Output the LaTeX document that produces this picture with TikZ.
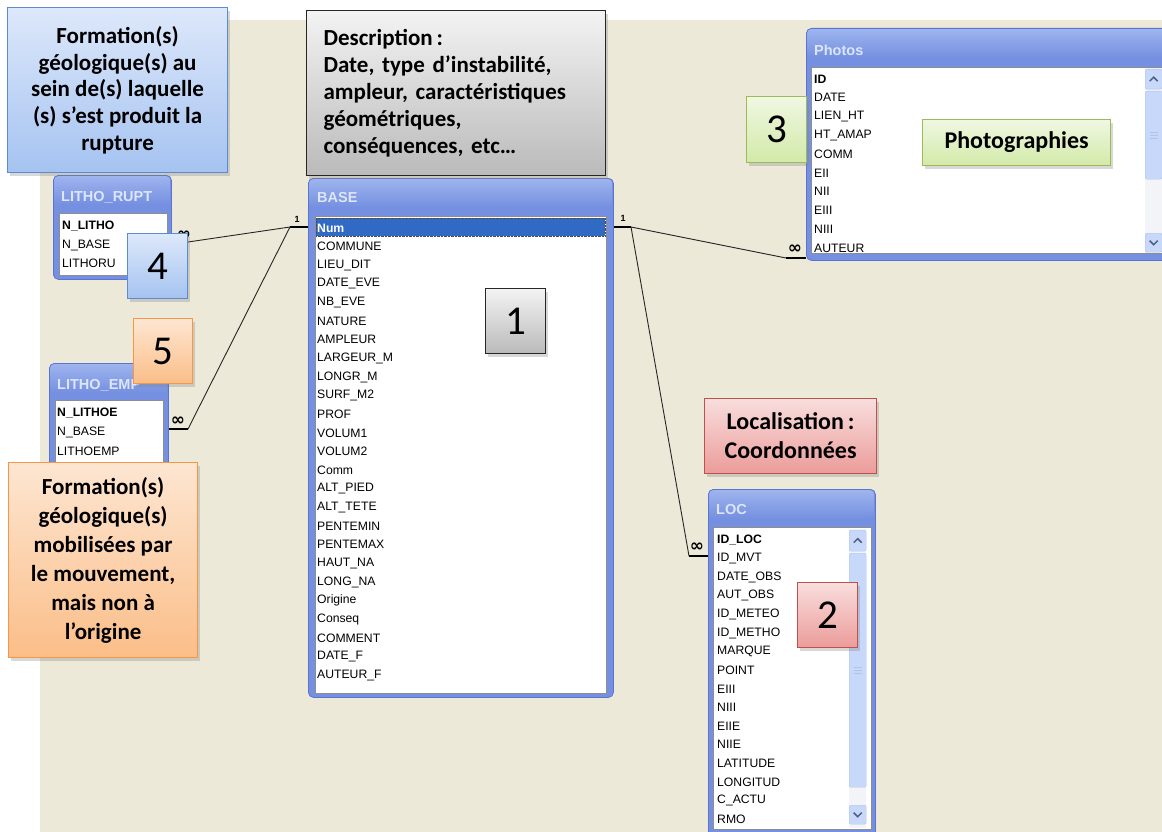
\documentclass[tikz,border=0pt]{standalone}
\usepackage{fontspec}
\setmainfont{Carlito}
\newfontfamily\xpfont{Liberation Sans}
\newfontfamily\symfont{DejaVu Sans}
\usetikzlibrary{shadows,positioning}
\definecolor{Beige}{HTML}{ECE9D8}
\definecolor{XpBlue}{HTML}{7590E0}
\definecolor{XpEdge}{HTML}{5B74D2}
\definecolor{XpTop}{HTML}{9DB4EE}
\definecolor{XpTitle}{HTML}{DCE5FA}
\definecolor{ListEdge}{HTML}{8E8E8E}
\definecolor{SelBlue}{HTML}{316AC5}
\definecolor{ScrTrack}{HTML}{F3F4F8}
\definecolor{ScrBtn}{HTML}{C8D8FA}
\definecolor{ScrEdge}{HTML}{AFC3EE}
\definecolor{ChevBlue}{HTML}{4D6185}
\definecolor{BlueEdge}{HTML}{5B8BD0}
\definecolor{BlueTop}{HTML}{DDE8FA}
\definecolor{BlueBot}{HTML}{A5C3F1}
\definecolor{GreyTop}{HTML}{F3F3F3}
\definecolor{GreyBot}{HTML}{BABABA}
\definecolor{OrangeEdge}{HTML}{F79646}
\definecolor{OrangeTop}{HTML}{FDE6D2}
\definecolor{OrangeBot}{HTML}{FBBE88}
\definecolor{GreenEdge}{HTML}{9BBB59}
\definecolor{GreenTop}{HTML}{F0F7E2}
\definecolor{GreenBot}{HTML}{D2EAA8}
\definecolor{RedEdge}{HTML}{C0504D}
\definecolor{RedTop}{HTML}{F8DEDD}
\definecolor{RedBot}{HTML}{EB9C9A}

\begin{document}
\begin{tikzpicture}[x=1pt,y=-1pt,
 frame/.style={draw=XpEdge,fill=XpBlue,rounded corners=5pt,line width=0.8pt,anchor=north west,inner sep=0pt},
 band/.style={top color=XpTop,bottom color=XpBlue,rounded corners=4pt,anchor=north west,inner sep=0pt,minimum height=28pt},
 ttl/.style={anchor=west,inner sep=0pt,text=XpTitle,font=\xpfont\bfseries\fontsize{14.5}{16}\selectfont},
 list/.style={draw=ListEdge,fill=white,line width=0.8pt,anchor=north west,inner sep=0pt},
 fld/.style={anchor=west,inner sep=0pt,font=\xpfont\fontsize{12.2}{14}\selectfont},
 key/.style={fld,font=\xpfont\bfseries\fontsize{12.2}{14}\selectfont},
 stub/.style={line width=2.6pt},
 link/.style={line width=0.9pt,draw=black!85},
 card/.style={inner sep=0pt,font=\xpfont\bfseries\fontsize{9}{9}\selectfont},
 many/.style={inner sep=0pt,font=\symfont\bfseries\fontsize{17}{17}\selectfont},
 callout/.style={line width=1.2pt,anchor=north west,inner sep=0pt,align=center,
   drop shadow={opacity=0.3,shadow xshift=2pt,shadow yshift=-3pt},
   font=\bfseries\fontsize{23}{27}\selectfont},
 numbox/.style={callout,font=\fontsize{41}{41}\selectfont,minimum width=60pt,minimum height=65pt},
 bluebox/.style={draw=BlueEdge,top color=BlueTop,bottom color=BlueBot},
 greybox/.style={draw=black!85,top color=GreyTop,bottom color=GreyBot},
 orangebox/.style={draw=OrangeEdge,top color=OrangeTop,bottom color=OrangeBot},
 greenbox/.style={draw=GreenEdge,top color=GreenTop,bottom color=GreenBot},
 redbox/.style={draw=RedEdge,top color=RedTop,bottom color=RedBot},
 scrtrack/.style={fill=ScrTrack,anchor=north west,inner sep=0pt,minimum width=17pt},
 scrbtn/.style={draw=ScrEdge,fill=ScrBtn,rounded corners=2pt,anchor=north west,inner sep=0pt,minimum width=17pt},
 chev/.style={line width=1.5pt,draw=ChevBlue}]
\clip (0,0) rectangle (1162,832);
\fill[white] (0,0) rectangle (1162,832);
\fill[Beige] (40,20) rectangle (1162,832);

% tables
\node[frame,minimum width=305pt,minimum height=519pt] (base) at (308,178) {};
\node[band,minimum width=303pt] at (309,179) {};
\node[ttl] (baset) at (317,198) {BASE};
\node[list,minimum width=291pt,minimum height=477pt] (basel) at (315,216) {};
\fill[SelBlue,draw=black!70,densely dotted] (316,218) rectangle (605,236);
\node[key,text=white] (base-0) at (317,228) {Num};
\foreach \f [count=\i] in {COMMUNE,LIEU\_DIT,DATE\_EVE,NB\_EVE,NATURE,AMPLEUR,LARGEUR\_M,
  LONGR\_M,SURF\_M2,PROF,VOLUM1,VOLUM2,Comm,ALT\_PIED,ALT\_TETE,PENTEMIN,PENTEMAX,
  HAUT\_NA,LONG\_NA,Origine,Conseq,COMMENT,DATE\_F,AUTEUR\_F}
  \node[fld] (base-\i) at ({317},{228+18.63*\i}) {\f};

\node[frame,minimum width=118pt,minimum height=104pt] (rupt) at (53,175) {};
\node[band,minimum width=116pt] at (54,176) {};
\node[ttl] (ruptt) at (61,197) {LITHO\_RUPT};
\node[list,minimum width=108pt,minimum height=62pt] (ruptl) at (59,213) {};
\node[key] (rupt-0) at (62,226) {N\_LITHO};
\node[fld] (rupt-1) at (62,245) {N\_BASE};
\node[fld] (rupt-2) at (62,263) {LITHORU};

\node[frame,minimum width=119pt,minimum height=110pt] (emp) at (49,363) {};
\node[band,minimum width=117pt] at (50,364) {};
\node[ttl] (empt) at (57,385) {LITHO\_EMP};
\node[list,minimum width=108pt,minimum height=75pt] (empl) at (55,400) {};
\node[key] (emp-0) at (57,413) {N\_LITHOE};
\node[fld] (emp-1) at (57,432) {N\_BASE};
\node[fld] (emp-2) at (57,451) {LITHOEMP};

\node[frame,minimum width=370pt,minimum height=232pt] (photos) at (806,28) {};
\node[band,minimum width=368pt] at (807,29) {};
\node[ttl] (photost) at (814,50) {Photos};
\node[list,minimum width=360pt,minimum height=186pt] (photosl) at (811,67) {};
\node[key] (photos-0) at (814,79) {ID};
\foreach \f [count=\i] in {DATE,LIEN\_HT,HT\_AMAP,COMM,EII,NII,EIII,NIII,AUTEUR}
  \node[fld] (photos-\i) at ({814},{79+18.8*\i}) {\f};
\node[scrtrack,minimum height=185pt] (phtrack) at (1145,68) {};
\node[scrbtn,minimum height=20pt] (phup) at (1145,69) {};
\node[scrbtn,minimum height=88pt] (phthumb) at (1145,91) {};
\node[scrbtn,minimum height=19pt] (phdown) at (1145,233) {};

\node[frame,minimum width=167pt,minimum height=360pt] (loc) at (708,489) {};
\node[band,minimum width=165pt] at (709,490) {};
\node[ttl] (loct) at (716,510) {LOC};
\node[list,minimum width=158pt,minimum height=302pt] (locl) at (713,527) {};
\node[key] (loc-0) at (717,540) {ID\_LOC};
\foreach \f [count=\i] in {ID\_MVT,DATE\_OBS,AUT\_OBS,ID\_METEO,ID\_METHO,MARQUE,POINT,
  EIII,NIII,EIIE,NIIE,LATITUDE,LONGITUD,C\_ACTU,RMO}
  \node[fld] (loc-\i) at ({717},{540+18.6*\i}) {\f};
\node[scrtrack,minimum height=299pt] (loctrack) at (849,529) {};
\node[scrbtn,minimum height=21pt] (locup) at (849,530) {};
\node[scrbtn,minimum height=234pt] (locthumb) at (849,553) {};
\node[scrbtn,minimum height=19pt] (locdown) at (849,805) {};

% scroll arrows and grips
\foreach \b in {phup,locup}
  \draw[chev] ([xshift=-4pt,yshift=-2pt]\b.center) -- ([yshift=2pt]\b.center) -- ([xshift=4pt,yshift=-2pt]\b.center);
\foreach \b in {phdown,locdown}
  \draw[chev] ([xshift=-4pt,yshift=2pt]\b.center) -- ([yshift=-2pt]\b.center) -- ([xshift=4pt,yshift=2pt]\b.center);
\foreach \b in {phthumb,locthumb}
  \foreach \d in {-3,0,3}
    \draw[ScrEdge] ([xshift=-4pt,yshift=\d pt]\b.center) -- ([xshift=4pt,yshift=\d pt]\b.center);

% relationships
\coordinate (baseL) at (290,227);
\coordinate (baseR) at (631,227);
\coordinate (ruptR) at (188,242);
\coordinate (empR) at (188,429);
\coordinate (photosL) at (786,258);
\coordinate (locL) at (689,556);
\draw[stub] (baseL) -- (baseL -| base.west);
\draw[stub] (baseR) -- (baseR -| base.east);
\draw[stub] (ruptR) -- (ruptR -| rupt.east);
\draw[stub] (empR) -- (empR -| emp.east);
\draw[stub] (photosL) -- (photosL -| photos.west);
\draw[stub] (locL) -- (locL -| loc.west);
\draw[link] (baseL) -- (ruptR);
\draw[link] (baseL) -- (empR);
\draw[link] (baseR) -- (photosL);
\draw[link] (baseR) -- (locL);
\node[card] (c1) at (297,219) {1};
\node[card] (c2) at (623,218) {1};
\node[many] (m1) at (184,235) {∞};
\node[many] (m2) at (178,421) {∞};
\node[many] (m3) at (795,249) {∞};
\node[many] (m4) at (697,547) {∞};

% callouts
\node[callout,bluebox,minimum width=220pt,minimum height=165pt,font=\bfseries\fontsize{23}{26.7}\selectfont] (rupttxt) at (7,7)
  {Formation(s)\\géologique(s) au\\sein de(s) laquelle\\(s) s’est produit la\\rupture};
\node[callout,greybox,minimum width=299pt,minimum height=165pt,align=left,text width=265pt] (basetxt) at (306,10)
  {Description\,:\\Date, type d’instabilité,\\ampleur, caractéristiques\\géométriques,\\conséquences, etc…};
\node[callout,orangebox,minimum width=189pt,minimum height=195pt,font=\bfseries\fontsize{23}{29}\selectfont] (emptxt) at (8,462)
  {Formation(s)\\géologique(s)\\mobilisées par\\le mouvement,\\mais non à\\l’origine};
\node[callout,greenbox,minimum width=188pt,minimum height=46pt,font=\bfseries\fontsize{24}{28}\selectfont] (photostxt) at (922,119) {Photographies};
\node[callout,redbox,minimum width=172pt,minimum height=75pt,font=\bfseries\fontsize{24}{29}\selectfont] (loctxt) at (704,398)
  {Localisation\,:\\Coordonnées};
\node[numbox,greybox] (n1) at (485,288) {1};
\node[numbox,redbox] (n2) at (797,582) {2};
\node[numbox,greenbox,minimum height=66pt] (n3) at (746,96) {3};
\node[numbox,bluebox] (n4) at (127,233) {4};
\node[numbox,orangebox,minimum width=59pt] (n5) at (133,318) {5};
\end{tikzpicture}
\end{document}
